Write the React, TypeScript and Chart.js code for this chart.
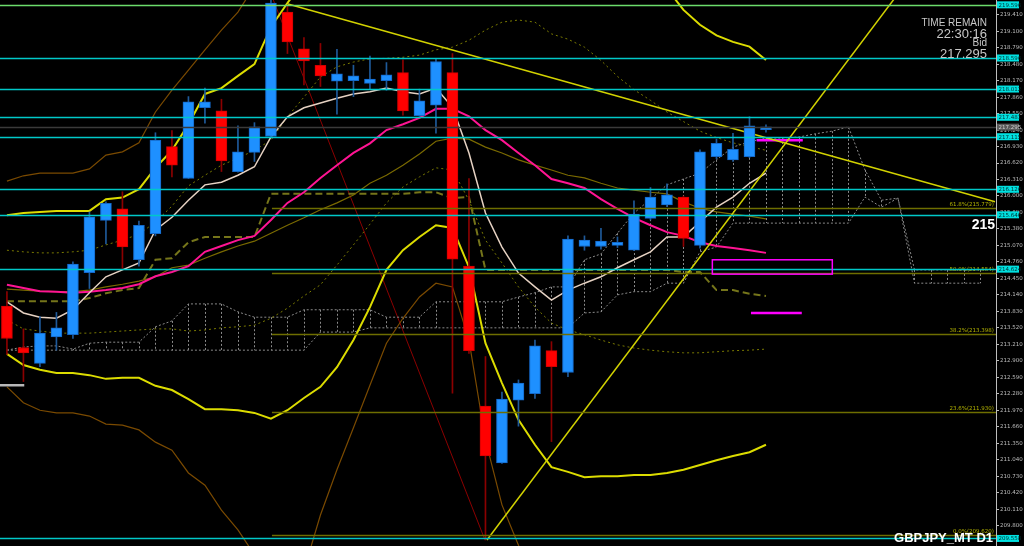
import { useEffect, useRef } from "react"
import { Chart, registerables } from "chart.js"

Chart.register(...registerables)

// GBPJPY D1 candles (index 0 = leftmost visible bar)
const OPEN = [213.93, 213.15, 212.85, 213.35, 213.39, 214.56, 215.54, 215.76, 214.8, 215.29, 216.93, 216.33, 217.66, 217.6, 216.46, 216.82, 217.12, 219.46, 218.77, 218.46, 218.16, 218.17, 218.12, 218.17, 218.32, 217.51, 217.71, 218.32, 214.68, 212.05, 210.98, 212.16, 212.28, 213.09, 212.68, 215.05, 215.05, 215.07, 214.98, 215.58, 215.83, 215.98, 215.07, 216.74, 216.68, 216.74, 217.25]
const HIGH = [214.2, 213.5, 213.73, 213.81, 214.76, 215.7, 215.89, 216.08, 215.53, 217.19, 217.23, 217.87, 218.03, 217.82, 217.32, 217.38, 219.69, 219.57, 218.98, 218.87, 218.76, 218.46, 218.63, 218.51, 218.56, 218.01, 218.59, 218.68, 216.33, 212.98, 212.31, 212.54, 213.29, 213.26, 215.25, 215.25, 215.39, 215.23, 215.91, 216.16, 216.23, 216.0, 216.87, 217.07, 217.18, 217.49, 217.34]
const LOW = [213.02, 212.51, 212.79, 213.1, 213.32, 214.26, 215.1, 214.64, 214.68, 215.25, 216.36, 216.33, 217.37, 216.46, 216.45, 216.65, 217.1, 218.68, 218.09, 218.06, 217.54, 217.87, 218.01, 217.99, 217.52, 217.5, 217.18, 212.29, 213.04, 209.53, 210.97, 211.67, 212.19, 211.38, 212.6, 214.98, 215.0, 215.03, 214.97, 215.55, 215.8, 215.05, 215.02, 216.7, 216.65, 216.72, 217.2]
const CLOSE = [213.32, 213.05, 213.42, 213.52, 214.72, 215.61, 215.86, 215.04, 215.45, 217.05, 216.58, 217.77, 217.77, 216.66, 216.83, 217.3, 219.63, 218.9, 218.54, 218.26, 218.3, 218.26, 218.2, 218.28, 217.6, 217.79, 218.53, 214.81, 213.09, 211.11, 212.18, 212.48, 213.18, 212.79, 215.19, 215.17, 215.15, 215.13, 215.66, 215.98, 216.02, 215.2, 216.83, 216.99, 216.88, 217.32, 217.3]

// moving averages
const MA_FAST = [214.01, 213.8, 213.72, 213.7, 213.86, 214.18, 214.48, 214.61, 214.74, 215.36, 215.6, 215.92, 216.21, 216.26, 216.39, 216.55, 217.11, 217.49, 217.66, 217.75, 217.84, 217.92, 217.96, 218.03, 217.96, 217.92, 218.03, 217.67, 216.81, 215.68, 215.04, 214.55, 214.29, 214.04, 214.23, 214.36, 214.48, 214.65, 214.8, 214.95, 215.23, 215.23, 215.51, 215.79, 215.98, 216.24, 216.43]
const MA_SLOW = [214.33, 214.27, 214.21, 214.2, 214.18, 214.2, 214.23, 214.27, 214.34, 214.49, 214.57, 214.68, 214.95, 215.06, 215.17, 215.25, 215.55, 215.87, 216.07, 216.34, 216.58, 216.81, 216.99, 217.24, 217.35, 217.47, 217.64, 217.64, 217.5, 217.24, 217.05, 216.81, 216.58, 216.32, 216.24, 216.15, 215.94, 215.76, 215.59, 215.45, 215.32, 215.25, 215.13, 215.06, 215.02, 214.98, 214.93]
const MID = [214.25, 214.23, 214.21, 214.2, 214.2, 214.23, 214.29, 214.34, 214.4, 214.48, 214.65, 214.7, 214.83, 214.95, 215.06, 215.15, 215.3, 215.45, 215.59, 215.74, 215.87, 216.02, 216.24, 216.39, 216.58, 216.79, 217.03, 217.09, 217.07, 216.92, 216.81, 216.68, 216.58, 216.49, 216.39, 216.34, 216.24, 216.15, 216.11, 216.07, 216.04, 215.89, 215.77, 215.7, 215.66, 215.62, 215.57]
const KIJUN = [214.02, 214.02, 214.02, 214.02, 214.02, 214.08, 214.17, 214.23, 214.27, 214.8, 214.83, 215.13, 215.23, 215.23, 215.23, 215.23, 216.04, 216.04, 216.04, 216.04, 216.04, 216.04, 216.04, 216.04, 216.04, 216.07, 216.07, 215.96, 215.98, 214.61, 214.61, 214.61, 214.61, 214.61, 214.61, 214.61, 214.61, 214.61, 214.61, 214.61, 214.61, 214.57, 214.57, 214.23, 214.23, 214.16, 214.12]

// bands
const BB_UP = [215.64, 215.68, 215.7, 215.72, 215.72, 215.72, 215.94, 215.97, 216.13, 216.53, 216.86, 217.35, 217.92, 218.03, 218.26, 218.48, 219.18, 219.63, 220.05, 220.3, 220.4, 220.45, 220.45, 220.45, 220.45, 220.45, 220.5, 220.6, 220.8, 221.0, 221.0, 221.0, 220.9, 220.8, 220.7, 220.6, 220.5, 220.4, 220.3, 220.1, 219.9, 219.5, 219.22, 219.02, 218.9, 218.81, 218.56]
const BB_LO = [213.03, 212.82, 212.73, 212.67, 212.67, 212.63, 212.56, 212.58, 212.58, 212.43, 212.35, 212.18, 211.99, 211.99, 211.97, 211.92, 211.81, 211.97, 212.2, 212.41, 212.78, 213.29, 213.91, 214.61, 214.98, 215.23, 215.45, 215.4, 214.66, 213.23, 212.48, 211.79, 211.32, 210.9, 210.81, 210.71, 210.73, 210.73, 210.75, 210.75, 210.79, 210.85, 210.94, 211.03, 211.11, 211.18, 211.32]
const BB3_UP = [216.28, 216.38, 216.43, 216.43, 216.43, 216.51, 216.77, 216.83, 217.0, 217.58, 217.99, 218.37, 218.75, 219.12, 219.46, 219.95, 220.4, 220.8, 221.0, 221.1, 221.2, 221.2, 221.2, 221.2, 221.2, 221.2, 221.3, 221.4, 221.6, 221.8, 221.9, 221.9, 221.8, 221.7, 221.6, 221.5, 221.4, 221.2, 221.0, 220.9, 220.7, 220.5, 220.3, 220.1, 220.0, 219.9, 219.8]
const BB3_LO = [212.41, 212.11, 211.97, 211.92, 211.92, 211.86, 211.71, 211.69, 211.6, 211.37, 211.22, 210.79, 210.56, 210.09, 209.72, 209.25, 208.87, 208.59, 208.96, 210.0, 210.85, 211.64, 212.44, 213.23, 213.7, 214.1, 214.36, 214.29, 213.29, 211.41, 210.19, 209.43, 208.9, 208.6, 208.4, 208.3, 208.3, 208.3, 208.4, 208.5, 208.6, 208.7, 208.8, 208.9, 209.0, 209.1, 209.2]
const BB1_UP = [214.98, 214.95, 214.93, 214.93, 214.95, 214.98, 215.08, 215.17, 215.28, 215.51, 215.81, 216.19, 216.39, 216.58, 216.71, 216.86, 217.05, 217.49, 217.86, 218.24, 218.43, 218.52, 218.58, 218.59, 218.61, 218.65, 218.75, 218.8, 218.93, 219.12, 219.27, 219.31, 219.27, 219.05, 218.95, 218.8, 218.55, 218.25, 218.0, 217.8, 217.58, 217.4, 217.22, 217.1, 217.0, 216.93, 216.86]
const BB1_LO = [213.67, 213.5, 213.46, 213.42, 213.42, 213.42, 213.44, 213.46, 213.48, 213.5, 213.5, 213.46, 213.48, 213.52, 213.54, 213.57, 213.7, 213.89, 214.12, 214.33, 214.7, 215.08, 215.47, 215.87, 216.17, 216.36, 216.53, 216.49, 215.92, 215.17, 214.74, 214.29, 213.91, 213.61, 213.48, 213.39, 213.29, 213.2, 213.14, 213.1, 213.07, 213.05, 213.05, 213.07, 213.09, 213.1, 213.12]

// ichimoku cloud (runs 13 bars past the last candle)
const SPAN_A = [213.1, 213.16, 213.18, 213.18, 213.12, 213.23, 213.25, 213.25, 213.25, 213.54, 213.65, 213.97, 213.97, 213.97, 213.82, 213.72, 213.72, 213.72, 213.86, 213.86, 213.86, 213.86, 213.86, 213.72, 213.72, 213.72, 214.01, 214.01, 214.01, 214.01, 214.01, 214.1, 214.18, 214.29, 214.29, 214.8, 214.91, 215.3, 215.68, 215.94, 216.21, 216.32, 216.43, 216.68, 216.92, 217.02, 217.09, 217.09, 217.11, 217.17, 217.22, 217.3, 216.49, 215.92, 215.96, 214.61, 214.61, 214.61, 214.61, 214.61]
const SPAN_B = [213.1, 213.1, 213.1, 213.1, 213.1, 213.1, 213.1, 213.1, 213.1, 213.1, 213.1, 213.1, 213.1, 213.1, 213.1, 213.1, 213.1, 213.1, 213.1, 213.44, 213.44, 213.44, 213.52, 213.52, 213.52, 213.52, 213.52, 213.52, 213.52, 213.52, 213.52, 213.52, 213.52, 213.52, 213.52, 213.8, 213.82, 214.14, 214.2, 214.2, 214.36, 214.36, 214.95, 215.04, 215.49, 215.49, 215.49, 215.49, 215.49, 215.49, 215.49, 215.49, 215.98, 215.79, 215.96, 214.36, 214.36, 214.36, 214.36, 214.36]

// drawn objects
const H_LEVELS = [219.596, 218.596, 218.012, 217.481, 217.115, 216.126, 215.646, 214.624, 209.558]
const BID = 217.295
const FIB_LEVELS = [215.779, 214.554, 213.398, 211.93, 209.62]
const FIB_NAMES = ["61.8%", "50.0%", "38.2%", "23.6%", "0.0%"]
const FIB_START = 16.06
const TREND_DOWN = [{ x: 17.03, y: 219.61 }, { x: 59.88, y: 215.89 }]
const TREND_UP = [{ x: 29.09, y: 209.53 }, { x: 53.8, y: 219.72 }]
const RED_LINE = [{ x: 16.0, y: 219.8 }, { x: 28.97, y: 209.53 }]
const MAG_HIGH = [{ x: 45.44, y: 217.05 }, { x: 48.23, y: 217.05 }]
const MAG_LOW = [{ x: 45.09, y: 213.8 }, { x: 48.17, y: 213.8 }]
const MAG_BOX_X = [42.75, 50.02]
const MAG_BOX_Y = [214.53, 214.8]
const OLD_LEVEL = [{ x: -0.5, y: 212.44 }, { x: 1.05, y: 212.44 }]

const Y_TICKS = [209.8, 210.11, 210.42, 210.73, 211.04, 211.35, 211.66, 211.97, 212.28, 212.59, 212.9, 213.21, 213.52, 213.83, 214.14, 214.45, 214.76, 215.07, 215.38, 215.69, 216.0, 216.31, 216.62, 216.93, 217.24, 217.55, 217.86, 218.17, 218.48, 218.79, 219.1, 219.41]

const BLUE = "#1e90ff"
const RED = "#ff0000"
const CYAN = "#00c8c8"

const series = (vals: number[]) => vals.map((v, i) => ({ x: i, y: v }))

const line = (data: { x: number; y: number }[], color: string, width: number, dash: number[] = [], order = 5) => ({
  type: "line" as const,
  data,
  borderColor: color,
  borderWidth: width,
  borderDash: dash,
  pointRadius: 0,
  tension: 0,
  fill: false,
  order,
})

const overlay = {
  id: "overlay",
  beforeDatasetsDraw(chart: any) {
    const { ctx, chartArea: a, scales } = chart
    const { x, y } = scales
    ctx.save()
    ctx.beginPath()
    ctx.rect(a.left, a.top, a.right - a.left, a.bottom - a.top)
    ctx.clip()
    // cloud hatch
    ctx.strokeStyle = "#8a8a8a"
    ctx.lineWidth = 1
    ctx.setLineDash([2, 2])
    SPAN_A.forEach((v, i) => {
      const px = Math.round(x.getPixelForValue(i)) + 0.5
      ctx.beginPath()
      ctx.moveTo(px, y.getPixelForValue(v))
      ctx.lineTo(px, y.getPixelForValue(SPAN_B[i]))
      ctx.stroke()
    })
    ctx.restore()
  },
  afterDatasetsDraw(chart: any) {
    const { ctx, chartArea: a, scales } = chart
    const { x, y } = scales
    ctx.save()
    ctx.beginPath()
    ctx.rect(a.left, a.top, a.right - a.left, a.bottom - a.top)
    ctx.clip()

    // fibonacci levels
    ctx.font = "5.5px 'DejaVu Sans'"
    ctx.textAlign = "right"
    ctx.textBaseline = "bottom"
    FIB_LEVELS.forEach((v, i) => {
      const py = Math.round(y.getPixelForValue(v)) + 0.5
      ctx.strokeStyle = "#6e6e00"
      ctx.lineWidth = 1.5
      ctx.beginPath()
      ctx.moveTo(x.getPixelForValue(FIB_START), py)
      ctx.lineTo(a.right, py)
      ctx.stroke()
      ctx.fillStyle = "#b4b400"
      ctx.fillText(`${FIB_NAMES[i]}(${v.toFixed(3)})`, a.right - 2, py - 1)
    })

    // bid line
    const by = Math.round(y.getPixelForValue(BID)) + 0.5
    ctx.strokeStyle = "#3a3a3a"
    ctx.lineWidth = 1.5
    ctx.beginPath()
    ctx.moveTo(a.left, by)
    ctx.lineTo(a.right, by)
    ctx.stroke()

    // horizontal levels
    H_LEVELS.forEach((v, i) => {
      const py = Math.round(y.getPixelForValue(v)) + 0.5
      ctx.strokeStyle = i === 0 ? "#6cdc6c" : CYAN
      ctx.lineWidth = 1.5
      ctx.beginPath()
      ctx.moveTo(a.left, py)
      ctx.lineTo(a.right, py)
      ctx.stroke()
    })

    // magenta box
    const x0 = x.getPixelForValue(MAG_BOX_X[0])
    const x1 = x.getPixelForValue(MAG_BOX_X[1])
    const y0 = y.getPixelForValue(MAG_BOX_Y[1])
    const y1 = y.getPixelForValue(MAG_BOX_Y[0])
    ctx.strokeStyle = "#ff00ff"
    ctx.lineWidth = 1.5
    ctx.strokeRect(x0, y0, x1 - x0, y1 - y0)
    ctx.restore()
  },
  afterDraw(chart: any) {
    const { ctx, chartArea: a, scales } = chart
    const { y } = scales
    ctx.save()
    // price boxes on the axis
    ctx.font = "5.5px 'DejaVu Sans'"
    ctx.textAlign = "left"
    ctx.textBaseline = "middle"
    const box = (v: number, bg: string, fg: string) => {
      const py = Math.min(Math.max(y.getPixelForValue(v), 4), a.bottom - 4)
      ctx.fillStyle = bg
      ctx.fillRect(a.right + 1, py - 3.5, 22, 7)
      ctx.fillStyle = fg
      ctx.fillText(v.toFixed(3), a.right + 2.5, py + 0.5)
    }
    H_LEVELS.forEach((v) => box(v, "#00e0e0", "#003030"))
    box(BID, "#5a5a5a", "#d0d0d0")

    // info text
    ctx.fillStyle = "#c8c8c8"
    ctx.textAlign = "right"
    ctx.textBaseline = "alphabetic"
    ctx.font = "10px 'Liberation Sans'"
    ctx.fillText("TIME REMAIN", 987, 26)
    ctx.font = "13px 'Liberation Sans'"
    ctx.fillText("22:30:16", 987, 38)
    ctx.font = "10px 'Liberation Sans'"
    ctx.fillText("Bid", 987, 46)
    ctx.font = "13px 'Liberation Sans'"
    ctx.fillText("217.295", 987, 58)

    ctx.fillStyle = "#ffffff"
    ctx.font = "bold 14px 'Liberation Sans'"
    ctx.fillText("215", 995, 229)
    ctx.font = "bold 13px 'Liberation Sans'"
    ctx.fillText("GBPJPY_MT D1", 993, 542)
    ctx.restore()
  },
}

export default function App() {
  const chartRef = useRef<HTMLCanvasElement>(null)

  useEffect(() => {
    if (!chartRef.current) return

    const up = OPEN.map((o, i) => CLOSE[i] >= o)

    const chart = new Chart(chartRef.current, {
      type: "bar",
      data: {
        datasets: [
          {
            type: "bar",
            data: OPEN.map((o, i) => ({ x: i, y: [o, CLOSE[i]] })) as any,
            backgroundColor: up.map((u) => (u ? BLUE : RED)),
            borderColor: up.map((u) => (u ? "#1468c8" : "#d00000")),
            borderWidth: 1,
            borderSkipped: false,
            barThickness: 11,
            grouped: false,
            order: 0,
          },
          {
            type: "bar",
            data: LOW.map((l, i) => ({ x: i, y: [l, HIGH[i]] })) as any,
            backgroundColor: up.map((u) => (u ? "#1f5a9a" : "#8b0000")),
            borderWidth: 0,
            barThickness: 1,
            grouped: false,
            order: 1,
          },
          line(series(MA_FAST), "#e6d2c3", 1.5, [], 2),
          line(series(MA_SLOW), "#ff1493", 2, [], 2),
          line(series(MID), "#7a6a00", 1.2),
          line(series(KIJUN), "#75751a", 2, [7, 4]),
          line(series(BB_UP), "#dcdc00", 2),
          line(series(BB_LO), "#dcdc00", 2),
          line(series(BB3_UP), "#7a4a00", 1.2),
          line(series(BB3_LO), "#7a4a00", 1.2),
          line(series(BB1_UP), "#7a7a00", 1, [2, 3]),
          line(series(BB1_LO), "#7a7a00", 1, [2, 3]),
          line(series(SPAN_A), "#8a8a8a", 1, [2, 2]),
          line(series(SPAN_B), "#8a8a8a", 1, [2, 2]),
          line(TREND_DOWN, "#d2d200", 1.5, [], 1),
          line(TREND_UP, "#d2d200", 1.5, [], 1),
          line(RED_LINE, "#8b0000", 1, [], 6),
          line(MAG_HIGH, "#ff00ff", 2.5, [], 1),
          line(MAG_LOW, "#ff00ff", 2.5, [], 1),
          line(OLD_LEVEL, "#b8b8b8", 2.5, [], 1),
        ] as any,
      },
      options: {
        responsive: false,
        maintainAspectRatio: false,
        animation: false,
        layout: { padding: 0 },
        plugins: {
          legend: { display: false },
          tooltip: { enabled: false },
        },
        scales: {
          x: {
            type: "linear",
            min: -0.42,
            max: 59.94,
            offset: false,
            display: false,
          },
          y: {
            position: "right",
            min: 209.416,
            max: 219.687,
            afterBuildTicks: (s: any) => {
              s.ticks = Y_TICKS.map((value) => ({ value }))
            },
            afterFit: (s: any) => {
              s.width = 28
              s.paddingTop = 0
              s.paddingBottom = 0
            },
            ticks: {
              color: "#bdbdbd",
              font: { size: 5.5, family: "DejaVu Sans" },
              padding: 1,
              autoSkip: false,
              callback: (v: any) => Number(v).toFixed(3),
            },
            grid: { drawOnChartArea: false, drawTicks: true, tickLength: 3, color: "#bdbdbd" },
            border: { display: true, color: "#bdbdbd" },
          },
        },
      },
      plugins: [overlay],
    })

    return () => {
      chart.destroy()
    }
  }, [])

  return (
    <div style={{ position: "fixed", left: 0, top: 0, width: 1024, height: 546, background: "#000" }}>
      <canvas ref={chartRef} width={1024} height={546} />
    </div>
  )
}
